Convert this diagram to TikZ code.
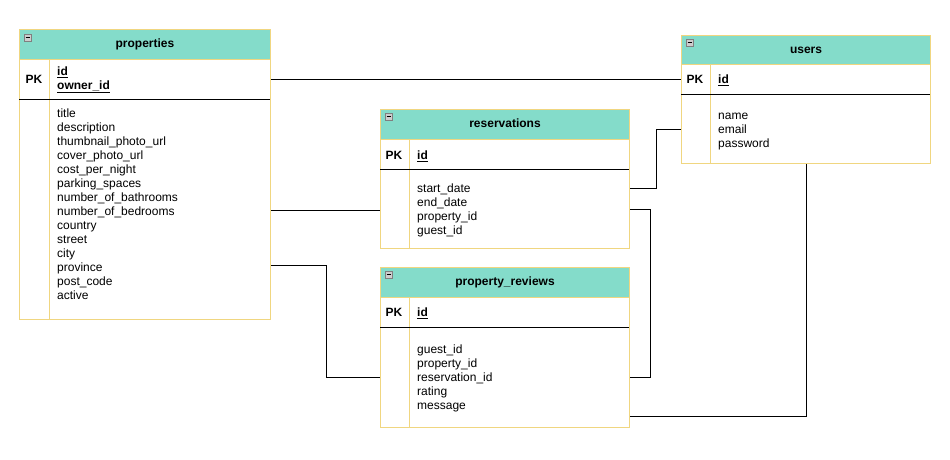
\documentclass[tikz,border=0pt]{standalone}
\usepackage{fontspec}
\setmainfont{Liberation Sans}
\usetikzlibrary{positioning}
\definecolor{hdrteal}{RGB}{132, 220, 202}
\definecolor{tblborder}{RGB}{240, 214, 128}
\definecolor{icongray}{RGB}{205, 205, 205}

\begin{document}
\begin{tikzpicture}[
    x = 1pt, y = -1pt,
    font = \fontsize{12}{14}\selectfont,
    tbl/.style = {draw = tblborder, line width = 1pt, fill = white, anchor = north west, inner sep = 0pt},
    hdr/.style = {tbl, fill = hdrteal, minimum height = 30pt, text height = 9pt, text depth = 3pt, font = \fontsize{12}{14}\selectfont\bfseries},
    pk/.style = {inner sep = 0pt, text height = 9pt, text depth = 3pt, font = \fontsize{12}{14}\selectfont\bfseries},
    fld/.style = {anchor = north west, align = left, inner sep = 0pt},
    key/.style = {fld, font = \fontsize{12}{14}\selectfont\bfseries},
    icon/.style = {draw = gray, line width = 0.6pt, fill = icongray, minimum size = 7pt, inner sep = 0pt, anchor = north west},
    link/.style = {line width = 1pt},
]
\useasboundingbox (0,0) rectangle (950,459);

% properties
\node[tbl, minimum width = 251pt, minimum height = 290pt] (properties) at (19,29) {};
\node[hdr, minimum width = 251pt] (properties-h) at (properties.north west) {properties};
\node[icon] (properties-i) at (24,34) {};
\draw[line width = 0.8pt] ([xshift=1.5pt]properties-i.west) -- ([xshift=-1.5pt]properties-i.east);
\draw[tblborder, line width = 1pt] (49,59) -- (49,319);
\draw[line width = 1pt] (19,99) -- (270,99);
\node[pk] (properties-pk) at (34,80) {PK};
\node[key] (properties-keys) at (57,65.7) {\strut\underline{id}\\\underline{owner\_id}};
\node[fld] (properties-f) at (57,107.7) {\strut title\\description\\thumbnail\_photo\_url\\cover\_photo\_url\\cost\_per\_night\\parking\_spaces\\number\_of\_bathrooms\\number\_of\_bedrooms\\country\\street\\city\\province\\post\_code\\active};

% users
\node[tbl, minimum width = 249pt, minimum height = 128pt] (users) at (681,35) {};
\node[hdr, minimum width = 249pt, minimum height = 29pt] (users-h) at (users.north west) {users};
\node[icon] (users-i) at (686,39) {};
\draw[line width = 0.8pt] ([xshift=1.5pt]users-i.west) -- ([xshift=-1.5pt]users-i.east);
\draw[tblborder, line width = 1pt] (710,64) -- (710,163);
\draw[line width = 1pt] (681,94) -- (930,94);
\node[pk] (users-pk) at (695,80) {PK};
\node[key] (users-keys) at (718,73.2) {\strut\underline{id}};
\node[fld] (users-f) at (718,109.2) {\strut name\\email\\password};

% reservations
\node[tbl, minimum width = 249pt, minimum height = 139pt] (reservations) at (380,109) {};
\node[hdr, minimum width = 249pt] (reservations-h) at (reservations.north west) {reservations};
\node[icon] (reservations-i) at (385,113) {};
\draw[line width = 0.8pt] ([xshift=1.5pt]reservations-i.west) -- ([xshift=-1.5pt]reservations-i.east);
\draw[tblborder, line width = 1pt] (409,139) -- (409,248);
\draw[line width = 1pt] (380,169) -- (629,169);
\node[pk] (reservations-pk) at (394,156) {PK};
\node[key] (reservations-keys) at (417,149.7) {\strut\underline{id}};
\node[fld] (reservations-f) at (417,182.5) {\strut start\_date\\end\_date\\property\_id\\guest\_id};

% property_reviews
\node[tbl, minimum width = 249pt, minimum height = 160pt] (reviews) at (380,267) {};
\node[hdr, minimum width = 249pt] (reviews-h) at (reviews.north west) {property\_reviews};
\node[icon] (reviews-i) at (385,271) {};
\draw[line width = 0.8pt] ([xshift=1.5pt]reviews-i.west) -- ([xshift=-1.5pt]reviews-i.east);
\draw[tblborder, line width = 1pt] (409,297) -- (409,427);
\draw[line width = 1pt] (380,327) -- (629,327);
\node[pk] (reviews-pk) at (394,313) {PK};
\node[key] (reviews-keys) at (417,306.7) {\strut\underline{id}};
\node[fld] (reviews-f) at (417,343.2) {\strut guest\_id\\property\_id\\reservation\_id\\rating\\message};

% relations
\draw[link] (properties.east |- 0,79) -- (users.west |- 0,79);
\draw[link] (reservations.east |- 0,188) -- ++(26,0) |- (users.west |- 0,129);
\draw[link] (properties.east |- 0,210) -- (reservations.west |- 0,210);
\draw[link] (properties.east |- 0,265) -- ++(55,0) |- (reviews.west |- 0,377);
\draw[link] (reservations.east |- 0,209) -- ++(20,0) |- (reviews.east |- 0,377);
\draw[link] (reviews.east |- 0,416) -| (users.south);
\end{tikzpicture}
\end{document}
